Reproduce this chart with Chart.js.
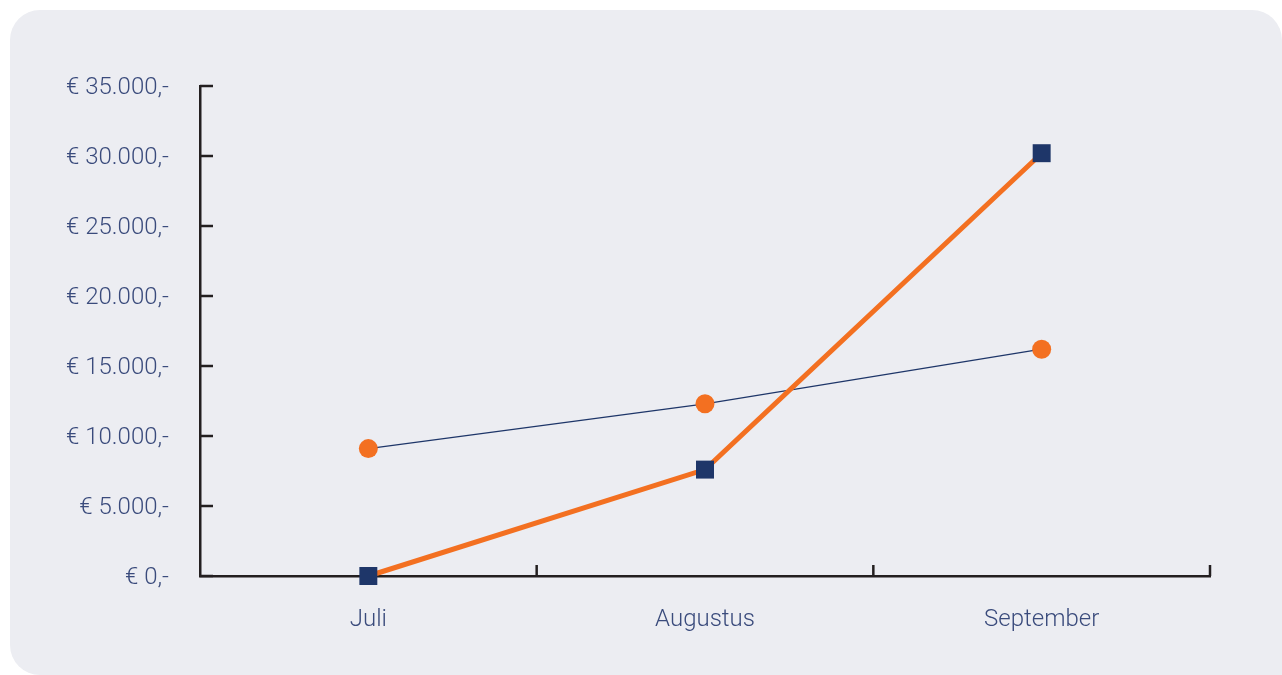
<!DOCTYPE html>
<html>
<head>
<meta charset="utf-8">
<script src="https://cdn.jsdelivr.net/npm/chart.js@4/dist/chart.umd.min.js"></script>
<style>
  html, body { margin: 0; padding: 0; background: #ffffff; }
  #panel {
    position: absolute; left: 10px; top: 10px; width: 1272px; height: 665px;
    background: #ecedf2; border-radius: 30px 30px 0 30px;
  }
  #wrap { position: absolute; left: 0; top: 0; width: 1282px; height: 675px; }
</style>
</head>
<body>
<div id="panel"></div>
<div id="wrap"><canvas id="chart"></canvas></div>
<script>
const months = ['Juli', 'Augustus', 'September'];
const lineThin = [9100, 12300, 16200];
const lineThick = [0, 7600, 30200];
const yMax = 35000;
const yStep = 5000;

const navy = '#1e3669';
const orange = '#f37021';
const axisColor = '#231f20';
const labelColor = '#3a4b7c';

function euro(v) {
  const s = String(v).replace(/\B(?=(\d{3})+(?!\d))/g, '.');
  return '€ ' + s + ',-';
}

// ticks drawn inward from the axes
const innerTicks = {
  id: 'innerTicks',
  beforeDatasetsDraw(chart) {
    const { ctx, chartArea, scales } = chart;
    ctx.save();
    ctx.strokeStyle = axisColor;
    ctx.lineWidth = 2.5;
    scales.y.ticks.forEach((t, i) => {
      const y = scales.y.getPixelForTick(i);
      ctx.beginPath();
      ctx.moveTo(chartArea.left, y);
      ctx.lineTo(chartArea.left + 13, y);
      ctx.stroke();
    });
    months.forEach((m, i) => {
      const x = scales.x.getPixelForValue(i + 0.5);
      ctx.beginPath();
      ctx.moveTo(x, chartArea.bottom);
      ctx.lineTo(x, chartArea.bottom - 11);
      ctx.stroke();
    });
    ctx.restore();
  }
};

const tickFont = { family: 'Roboto', weight: 300, size: 24 };

new Chart(document.getElementById('chart'), {
  type: 'line',
  data: {
    labels: months,
    datasets: [
      {
        data: lineThick,
        borderColor: orange,
        borderWidth: 5,
        pointStyle: 'rect',
        pointRadius: 12.7,
        pointBackgroundColor: navy,
        pointBorderWidth: 0,
        tension: 0,
        clip: false
      },
      {
        data: lineThin,
        borderColor: navy,
        borderWidth: 1.3,
        pointStyle: 'circle',
        pointRadius: 9.5,
        pointBackgroundColor: orange,
        pointBorderWidth: 0,
        tension: 0,
        clip: false
      }
    ]
  },
  options: {
    responsive: true,
    maintainAspectRatio: false,
    animation: false,
    layout: { padding: { top: 86, right: 72, left: 0, bottom: 0 } },
    plugins: { legend: { display: false }, tooltip: { enabled: false } },
    scales: {
      x: {
        offset: true,
        grid: { display: false, drawTicks: false },
        border: { display: true, color: axisColor, width: 2.5 },
        ticks: { color: labelColor, padding: 30, font: tickFont },
        afterFit(scale) { scale.height = 99; }
      },
      y: {
        min: 0,
        max: yMax,
        grid: { display: false, drawTicks: false },
        border: { display: true, color: axisColor, width: 2.5 },
        ticks: {
          stepSize: yStep,
          color: labelColor,
          padding: 31,
          labelOffset: 2,
          font: tickFont,
          callback: (v) => euro(v)
        },
        afterFit(scale) { scale.width = 200; }
      }
    }
  },
  plugins: [innerTicks]
});
</script>
</body>
</html>
